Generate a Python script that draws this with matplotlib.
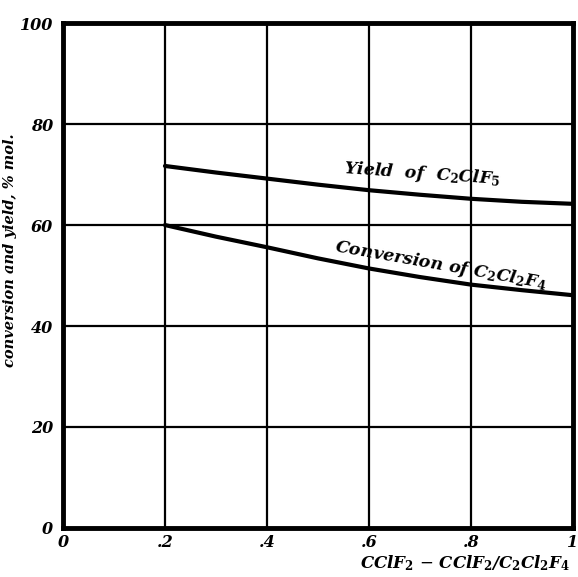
import numpy as np
import matplotlib
matplotlib.use("Agg")
import matplotlib.pyplot as plt

# values
ratio = [0.2, 0.3, 0.4, 0.5, 0.6, 0.7, 0.8, 0.9, 1.0]
yield_c2clf5 = [71.7, 70.4, 69.2, 68.0, 66.9, 66.0, 65.2, 64.6, 64.2]
conv_c2cl2f4 = [60.0, 57.7, 55.6, 53.4, 51.4, 49.7, 48.2, 47.1, 46.1]

xticks = [0, 0.2, 0.4, 0.6, 0.8, 1.0]
xticklabels = ["0", ".2", ".4", ".6", ".8", "1"]
yticks = [0, 20, 40, 60, 80, 100]

plt.rcParams["font.family"] = ["DejaVu Serif"]
plt.rcParams["mathtext.fontset"] = "dejavuserif"

fig = plt.figure(figsize=(5.78, 5.77), dpi=100)
ax = fig.add_axes([0.109, 0.085, 0.882, 0.875])

ax.plot(ratio, yield_c2clf5, color="black", lw=3.0, solid_capstyle="round",
        solid_joinstyle="round")
ax.plot(ratio, conv_c2cl2f4, color="black", lw=3.0, solid_capstyle="round",
        solid_joinstyle="round")

ax.set_xlim(0, 1)
ax.set_ylim(0, 100)
ax.set_xticks(xticks)
ax.set_xticklabels(xticklabels)
ax.set_yticks(yticks)
ax.grid(True, color="black", lw=1.6)
ax.tick_params(length=0, labelsize=11.5, pad=7)
ax.tick_params(axis="x", pad=4)
for lab in ax.get_xticklabels() + ax.get_yticklabels():
    lab.set_fontweight("bold")
    lab.set_fontstyle("italic")
for s in ax.spines.values():
    s.set_linewidth(3.5)

ax.set_ylabel("conversion and yield, % mol.", fontsize=10.5, fontweight="bold",
              fontstyle="italic")
ax.yaxis.set_label_coords(-0.09, 0.55)
ax.set_xlabel(r"CClF$_\mathbf{2}$ $-$ CClF$_\mathbf{2}$/C$_\mathbf{2}$Cl$_\mathbf{2}$F$_\mathbf{4}$",
              fontsize=12, fontweight="bold", fontstyle="italic")
ax.xaxis.set_label_coords(0.995, -0.07)
ax.xaxis.label.set_ha("right")
ax.xaxis.label.set_va("center")

ax.text(0.705, 67.0, r"Yield  of  C$_\mathbf{2}$ClF$_\mathbf{5}$", fontsize=12.5,
        fontweight="bold", fontstyle="italic", rotation=-4, ha="center", va="bottom")
ax.text(0.74, 52.0, r"Conversion of C$_\mathbf{2}$Cl$_\mathbf{2}$F$_\mathbf{4}$", fontsize=12.5,
        fontweight="bold", fontstyle="italic", rotation=-10, ha="center", va="center")

fig.savefig("out.png", dpi=100)
